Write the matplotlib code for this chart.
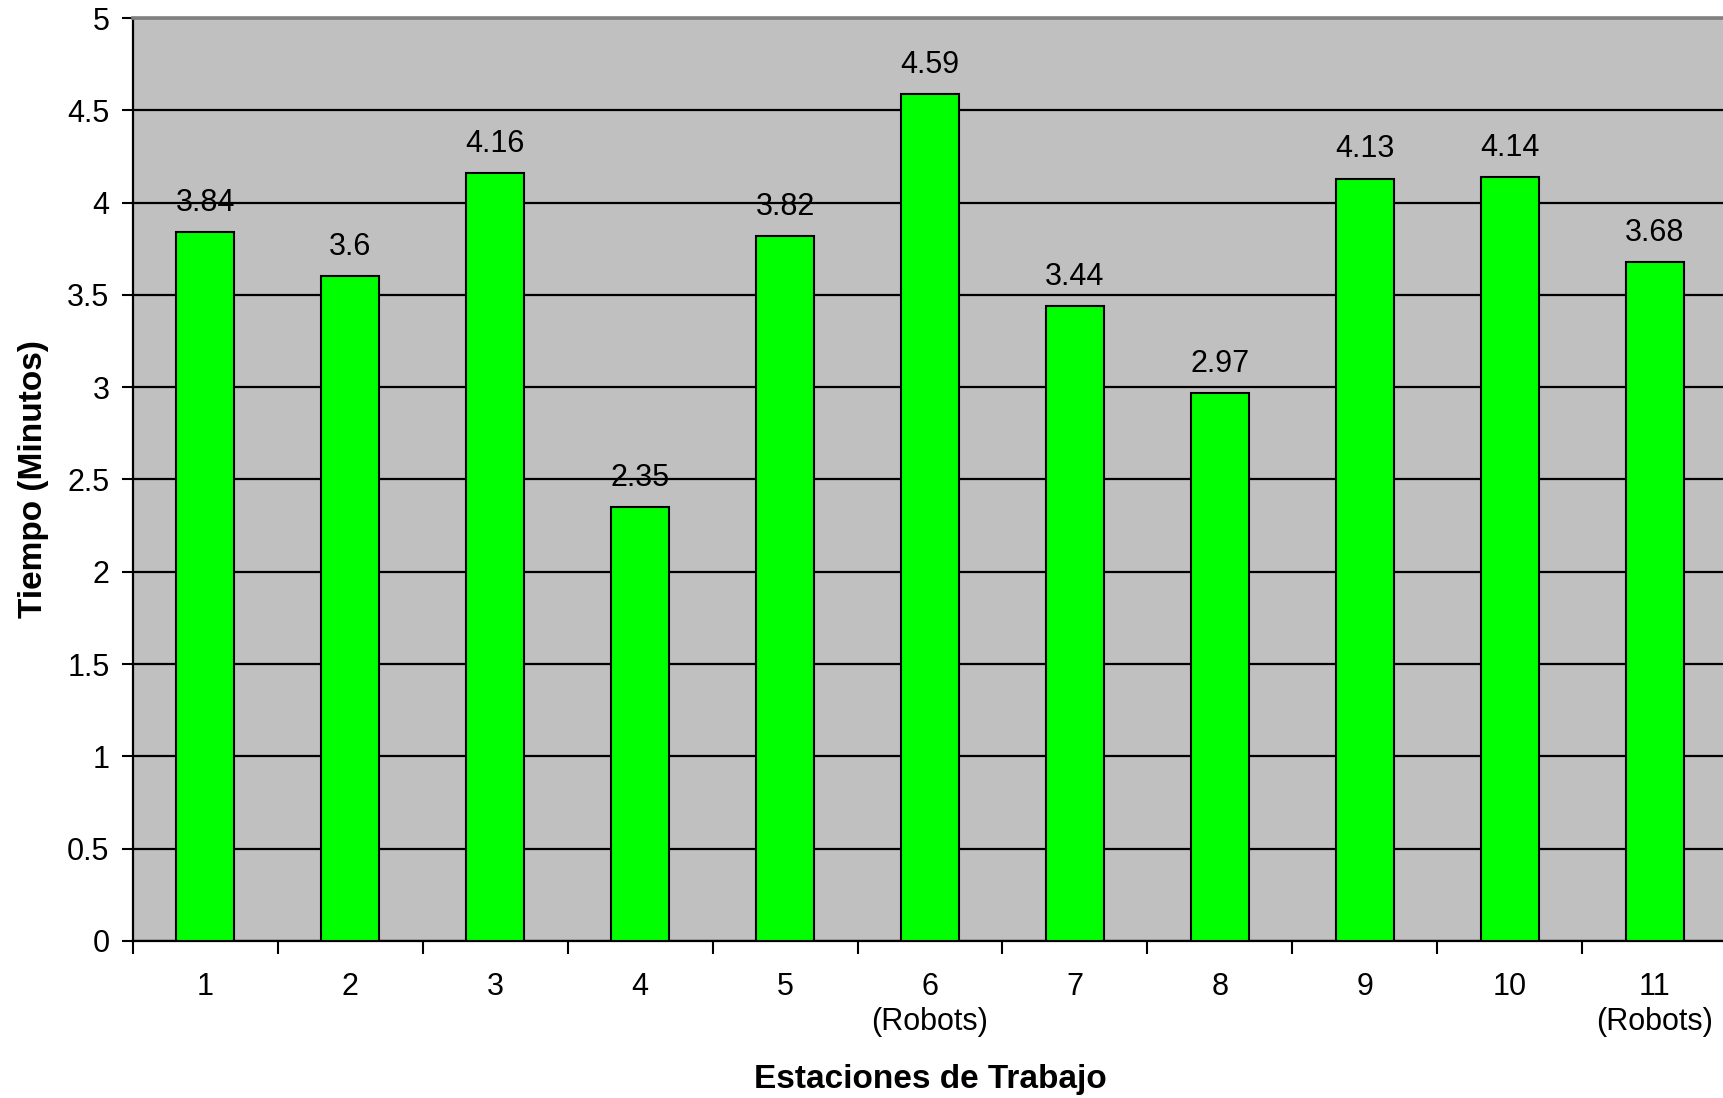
import matplotlib.pyplot as plt
import numpy as np

plt.rcParams['font.family'] = ['Liberation Sans', 'DejaVu Sans']

# data
stations = ['1', '2', '3', '4', '5', '6\n(Robots)', '7', '8', '9', '10', '11\n(Robots)']
times = [3.84, 3.6, 4.16, 2.35, 3.82, 4.59, 3.44, 2.97, 4.13, 4.14, 3.68]
time_labels = ['3.84', '3.6', '4.16', '2.35', '3.82', '4.59', '3.44', '2.97', '4.13', '4.14', '3.68']
y_ticks = [0, 0.5, 1, 1.5, 2, 2.5, 3, 3.5, 4, 4.5, 5]
y_tick_labels = ['0', '0.5', '1', '1.5', '2', '2.5', '3', '3.5', '4', '4.5', '5']

FS = 22
FS_LABEL = 24

fig = plt.figure(figsize=(17.24, 10.98), dpi=100)
ax = fig.add_axes([133 / 1724, 1 - 941 / 1098, 1594 / 1724, 923 / 1098])
ax.set_facecolor('#C0C0C0')

x = np.arange(len(times))
ax.bar(x, times, width=0.40, color='#00FF00', edgecolor='black', linewidth=1.5, zorder=3)

for xi, v, s in zip(x, times, time_labels):
    ax.annotate(s, (xi, v), xytext=(0, 21), textcoords='offset points',
                ha='center', va='center', fontsize=FS, zorder=4)

ax.set_xlim(-0.5, len(times) - 0.5)
ax.set_ylim(0, 5)

ax.set_yticks(y_ticks)
ax.set_yticklabels(y_tick_labels, fontsize=FS)
ax.tick_params(axis='y', direction='out', length=8, width=1.5, pad=9)
ax.yaxis.grid(True, color='black', linewidth=1.6, zorder=1)
ax.set_axisbelow(True)

ax.set_xticks(x)
ax.set_xticklabels(stations, fontsize=FS, linespacing=1.25, va='top')
ax.tick_params(axis='x', which='major', length=0, pad=22)
ax.set_xticks(np.arange(len(times) + 1) - 0.5, minor=True)
ax.tick_params(axis='x', which='minor', direction='out', length=9, width=1.5)

for side in ['left', 'bottom']:
    ax.spines[side].set_linewidth(1.6)
    ax.spines[side].set_color('black')
ax.spines['top'].set_color('#808080')
ax.spines['top'].set_linewidth(2.6)
ax.spines['right'].set_visible(False)

ax.set_ylabel('Tiempo (Minutos)', fontsize=FS_LABEL, fontweight='bold', labelpad=13)
ax.set_xlabel('Estaciones de Trabajo', fontsize=FS_LABEL, fontweight='bold', labelpad=19)

fig.savefig('out.png', dpi=100)
